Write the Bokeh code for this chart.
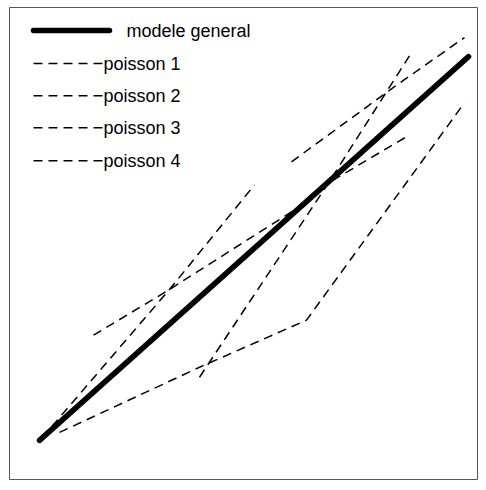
from bokeh.plotting import figure
from bokeh.embed import file_html
from bokeh.resources import INLINE
from bokeh.core.properties import value

general_x = [28, 457]
general_y = [40, 423]
p1_x = [30, 43, 160, 243]
p1_y = [43, 57, 193, 295]
p2_x = [82, 157, 283, 317, 395]
p2_y = [145, 190, 270, 297, 343]
p3_x = [48, 188, 295, 453]
p3_y = [48, 113, 160, 377]
p4_x = [188, 317, 400]
p4_y = [103, 297, 427]
p5_x = [280, 383, 453]
p5_y = [318, 393, 442]
labels = ["modele general", "poisson 1", "poisson 2", "poisson 3", "poisson 4"]
leg_y = [449, 416, 384, 352, 319]

p = figure(width=478, height=480, output_backend="svg", toolbar_location=None,
           x_range=(-2, 467), y_range=(0, 472), min_border=0,
           min_border_left=9, min_border_top=7)
p.axis.visible = False
p.grid.visible = False
p.outline_line_color = "#555555"
p.outline_line_width = 1

for xs, ys in [(p1_x, p1_y), (p2_x, p2_y), (p3_x, p3_y), (p4_x, p4_y), (p5_x, p5_y)]:
    p.line(xs, ys, line_color="black", line_width=1.5, line_dash="9 6")
p.line(general_x, general_y, line_color="black", line_width=5.5, line_cap="round")

p.line([22, 98], [leg_y[0], leg_y[0]], line_color="black", line_width=5.5, line_cap="round")
p.text([115], [leg_y[0]], text=[labels[0]], text_baseline="middle",
       text_font=value("Liberation Sans"), text_font_size="18px")
for i in range(1, 5):
    p.line([22, 91], [leg_y[i], leg_y[i]], line_color="black", line_width=1.5, line_dash="9 6")
    p.text([92], [leg_y[i]], text=[labels[i]], text_baseline="middle",
           text_font=value("Liberation Sans"), text_font_size="18px")

open("out.html", "w").write(file_html(p, INLINE))
